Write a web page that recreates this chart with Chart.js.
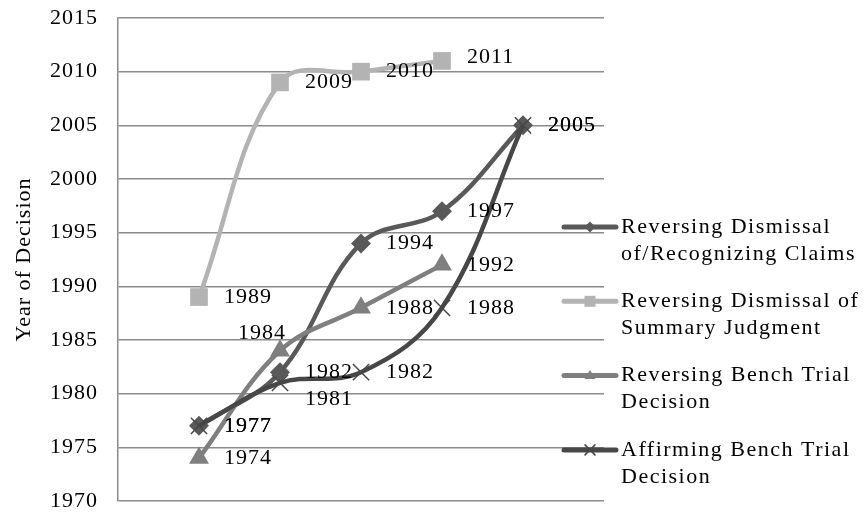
<!DOCTYPE html>
<html>
<head>
<meta charset="utf-8">
<script src="https://cdn.jsdelivr.net/npm/chart.js@4/dist/chart.umd.min.js"></script>
<style>
  html, body { margin: 0; padding: 0; background: #fff; }
  #wrap { width: 865px; height: 514px; }
</style>
</head>
<body>
<div id="wrap"><canvas id="chart" width="865" height="514"></canvas></div>
<script>
// data
const positions = [1, 2, 3, 4, 5];
const seriesNames = [
    ['Reversing Dismissal', 'of/Recognizing Claims'],
    ['Reversing Dismissal of', 'Summary Judgment'],
    ['Reversing Bench Trial', 'Decision'],
    ['Affirming Bench Trial', 'Decision']
];
const claimsYears = [1977, 1982, 1994, 1997, 2005];
const summaryYears = [1989, 2009, 2010, 2011];
const benchRevYears = [1974, 1984, 1988, 1992];
const benchAffYears = [1977, 1981, 1982, 1988, 2005];
const yMin = 1970, yMax = 2015, yStep = 5;

const FONT = '"Liberation Serif", "Times New Roman", serif';
const GRID = '#8c8c8c';

const colors = ['#595959', '#b3b3b3', '#7f7f7f', '#474747'];
const shapes = ['rectRot', 'rect', 'triangle', 'crossRot'];
const radii = [10, 12.5, 11.5, 11.5];

// label nudges (dataset, point) -> offsets
const labelNudge = {
    '1-3': { dy: -4 },
    '2-1': { dx: -18, dy: -18, align: 'center' },
    '3-1': { dy: 16 }
};

function toPoints(values) {
    return values.map((v, i) => ({ x: positions[i], y: v }));
}

const allSeries = [claimsYears, summaryYears, benchRevYears, benchAffYears];

const datasets = allSeries.map((vals, i) => ({
    label: seriesNames[i].join(' '),
    data: toPoints(vals),
    borderColor: colors[i],
    backgroundColor: colors[i],
    borderWidth: 4.5,
    tension: 0.38,
    pointStyle: shapes[i],
    pointRadius: radii[i],
    pointHoverRadius: radii[i],
    pointBackgroundColor: colors[i],
    pointBorderColor: colors[i],
    pointBorderWidth: shapes[i] === 'crossRot' ? 1.5 : 0,
    order: 3 - i
}));

// slightly wider text, closer to the original serif
const spacing = {
    id: 'spacing',
    beforeDraw(chart) { chart.ctx.letterSpacing = '1px'; }
};

const dataLabels = {
    id: 'dataLabels',
    afterDatasetsDraw(chart) {
        const ctx = chart.ctx;
        ctx.save();
        ctx.letterSpacing = '1px';
        ctx.font = '22px ' + FONT;
        ctx.fillStyle = '#000';
        ctx.textBaseline = 'middle';
        chart.data.datasets.forEach((ds, di) => {
            const meta = chart.getDatasetMeta(di);
            meta.data.forEach((pt, pi) => {
                const n = labelNudge[di + '-' + pi] || {};
                ctx.textAlign = n.align || 'left';
                const x = n.align === 'center' ? pt.x + (n.dx || 0) : pt.x + 25 + (n.dx || 0);
                ctx.fillText(String(ds.data[pi].y), x, pt.y + (n.dy || 0));
            });
        });
        ctx.restore();
    }
};

function drawMarker(ctx, shape, x, y, r, color) {
    ctx.save();
    ctx.fillStyle = color;
    ctx.strokeStyle = color;
    ctx.beginPath();
    if (shape === 'rectRot') {
        ctx.moveTo(x - r, y); ctx.lineTo(x, y - r); ctx.lineTo(x + r, y); ctx.lineTo(x, y + r);
        ctx.closePath(); ctx.fill();
    } else if (shape === 'rect') {
        ctx.rect(x - r, y - r, 2 * r, 2 * r); ctx.fill();
    } else if (shape === 'triangle') {
        ctx.moveTo(x, y - r); ctx.lineTo(x + r, y + r * 0.6); ctx.lineTo(x - r, y + r * 0.6);
        ctx.closePath(); ctx.fill();
    } else {
        ctx.lineWidth = 1.5;
        ctx.moveTo(x - r, y - r); ctx.lineTo(x + r, y + r);
        ctx.moveTo(x + r, y - r); ctx.lineTo(x - r, y + r);
        ctx.stroke();
    }
    ctx.restore();
}

const sideLegend = {
    id: 'sideLegend',
    afterDraw(chart) {
        const ctx = chart.ctx;
        ctx.save();
        ctx.letterSpacing = '1.5px';
        ctx.font = '22px ' + FONT;
        ctx.fillStyle = '#000';
        ctx.textBaseline = 'middle';
        ctx.textAlign = 'left';
        seriesNames.forEach((lines, i) => {
            const y = 227 + i * 74.3;
            ctx.strokeStyle = colors[i];
            ctx.lineWidth = 5;
            ctx.lineCap = 'round';
            ctx.beginPath();
            ctx.moveTo(564, y);
            ctx.lineTo(616, y);
            ctx.stroke();
            drawMarker(ctx, shapes[i], 590, y, i === 3 ? 5 : 5.5, colors[i]);
            ctx.fillStyle = '#000';
            lines.forEach((t, li) => ctx.fillText(t, 621, y + li * 27));
        });
        ctx.restore();
    }
};

new Chart(document.getElementById('chart'), {
    type: 'line',
    data: { datasets },
    plugins: [spacing, dataLabels, sideLegend],
    options: {
        responsive: false,
        devicePixelRatio: 1,
        animation: false,
        layout: { padding: { top: 18, right: 261, bottom: 11, left: 0 } },
        plugins: {
            legend: { display: false },
            tooltip: { enabled: false }
        },
        scales: {
            x: {
                type: 'linear',
                min: 0,
                max: 6,
                display: false
            },
            y: {
                min: yMin,
                max: yMax,
                afterFit(scale) {
                    scale.width = 118;
                    scale.paddingTop = 0;
                    scale.paddingBottom = 0;
                },
                ticks: {
                    stepSize: yStep,
                    color: '#000',
                    padding: 20,
                    font: { family: FONT, size: 22 },
                    callback: (v) => String(v)
                },
                grid: { color: GRID, lineWidth: 1.5, drawTicks: false },
                border: { color: GRID, width: 1.5 },
                title: {
                    display: true,
                    text: 'Year of Decision',
                    color: '#000',
                    padding: { top: 11, bottom: 0 },
                    font: { family: FONT, size: 22 }
                }
            }
        }
    }
});
</script>
</body>
</html>
